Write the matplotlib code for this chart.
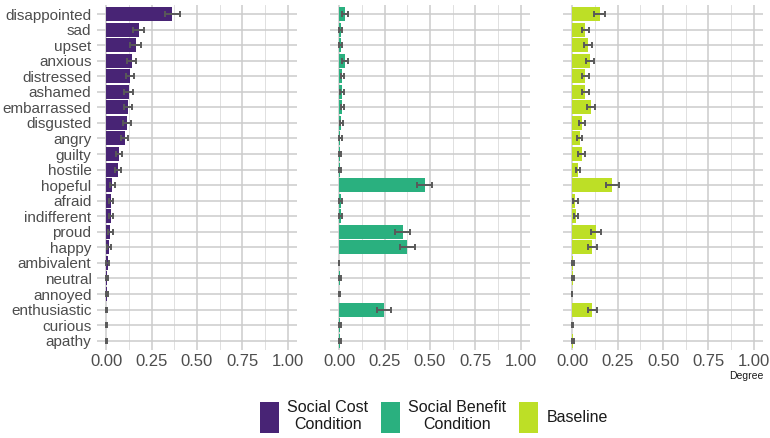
import numpy as np
import matplotlib
matplotlib.use("Agg")
import matplotlib.pyplot as plt
from matplotlib.ticker import MultipleLocator
from matplotlib.patches import Patch

plt.rcParams['font.family'] = ['Liberation Sans', 'DejaVu Sans']

# emotion categories, top to bottom
emotions = ["disappointed", "sad", "upset", "anxious", "distressed", "ashamed",
            "embarrassed", "disgusted", "angry", "guilty", "hostile", "hopeful",
            "afraid", "indifferent", "proud", "happy", "ambivalent", "neutral",
            "annoyed", "enthusiastic", "curious", "apathy"]

cost_mean = [0.365, 0.179, 0.164, 0.142, 0.131, 0.124, 0.120, 0.116, 0.102, 0.070,
             0.065, 0.035, 0.028, 0.026, 0.024, 0.017, 0.010, 0.004, 0.004, 0.002,
             0.002, 0.001]
cost_err = [0.040, 0.030, 0.030, 0.025, 0.023, 0.023, 0.022, 0.022, 0.020, 0.017,
            0.016, 0.013, 0.012, 0.012, 0.012, 0.010, 0.008, 0.005, 0.005, 0.004,
            0.004, 0.004]

benefit_mean = [0.031, 0.008, 0.008, 0.031, 0.018, 0.015, 0.018, 0.011, 0.007, 0.006,
                0.006, 0.470, 0.008, 0.010, 0.350, 0.376, 0.000, 0.005, 0.002, 0.246,
                0.005, 0.005]
benefit_err = [0.017, 0.008, 0.008, 0.017, 0.010, 0.010, 0.010, 0.008, 0.007, 0.007,
               0.007, 0.040, 0.007, 0.008, 0.040, 0.039, 0.002, 0.006, 0.004, 0.037,
               0.006, 0.006]

base_mean = [0.152, 0.072, 0.088, 0.101, 0.072, 0.072, 0.104, 0.054, 0.041, 0.052,
             0.031, 0.221, 0.018, 0.022, 0.133, 0.111, 0.005, 0.006, 0.000, 0.110,
             0.002, 0.004]
base_err = [0.030, 0.020, 0.022, 0.022, 0.020, 0.020, 0.024, 0.018, 0.016, 0.018,
            0.012, 0.035, 0.012, 0.012, 0.028, 0.025, 0.006, 0.007, 0.002, 0.025,
            0.004, 0.006]

conditions = ["Social Cost\nCondition", "Social Benefit\nCondition", "Baseline"]
colours = ["#482475", "#2ab07f", "#bddf26"]

W, H = 770, 438
fig = plt.figure(figsize=(W / 100, H / 100), dpi=100)

lefts = [97, 330, 563]
panels = [(cost_mean, cost_err), (benefit_mean, benefit_err), (base_mean, base_err)]
y = np.arange(len(emotions))

for i, (left, (mean, err)) in enumerate(zip(lefts, panels)):
    ax = fig.add_axes([left / W, 1 - 350 / H, 200 / W, 345.3 / H])
    ax.set_axisbelow(True)
    ax.barh(y, mean, height=0.9, color=colours[i], zorder=2)
    ax.errorbar(mean, y, xerr=err, fmt="none", ecolor="#595959",
                elinewidth=1.4, capsize=2.2, capthick=1.4, zorder=3)
    ax.set_xlim(-0.05, 1.05)
    ax.set_ylim(len(emotions) - 0.4, -0.6)
    ax.xaxis.set_minor_locator(MultipleLocator(0.125))
    ax.set_xticks([0, 0.25, 0.5, 0.75, 1.0])
    ax.set_xticklabels(["0.00", "0.25", "0.50", "0.75", "1.00"])
    ax.set_yticks(y)
    if i == 0:
        ax.set_yticklabels(emotions)
    else:
        ax.set_yticklabels([])
    ax.tick_params(axis="both", length=0, colors="#4d4d4d")
    ax.tick_params(axis="y", labelsize=11, pad=4)
    ax.tick_params(axis="x", labelsize=12, pad=3)
    ax.tick_params(which="minor", length=0)
    ax.grid(which="major", axis="both", color="#cccccc", linewidth=1.1)
    ax.grid(which="minor", axis="x", color="#dadada", linewidth=0.6)
    for s in ax.spines.values():
        s.set_visible(False)

fig.text(763 / W, 1 - 371 / H, "Degree", fontsize=7.5, ha="right", va="top",
         color="#1a1a1a")

handles = [Patch(facecolor=c, edgecolor="none") for c in colours]
leg = fig.legend(handles, conditions, loc="center",
                 bbox_to_anchor=(434 / W, 1 - 416.5 / H), ncol=3, frameon=False,
                 fontsize=11.5, handlelength=1.2, handleheight=2.6,
                 handletextpad=0.5, columnspacing=0.8, labelcolor="#1a1a1a")
for t in leg.get_texts():
    t.set_multialignment("center")

fig.savefig("out.png", dpi=100)
